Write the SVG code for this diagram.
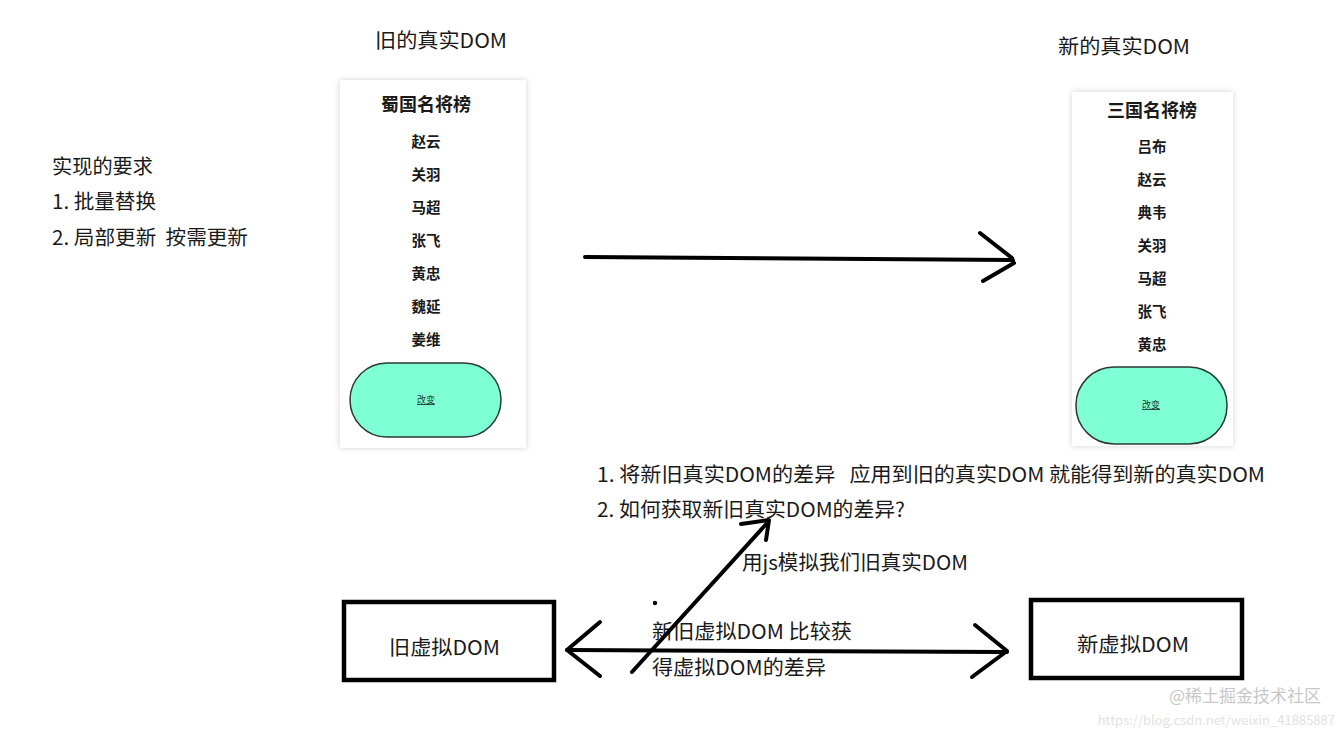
<svg xmlns="http://www.w3.org/2000/svg" width="1342" height="732" viewBox="0 0 1342 732">
<defs>
<filter id="sh" x="-10%" y="-10%" width="120%" height="120%">
<feDropShadow dx="0" dy="0" stdDeviation="3" flood-color="#000" flood-opacity="0.18"/>
</filter>
</defs>
<style>
text{font-family:"Noto Sans CJK SC","Liberation Sans",sans-serif;fill:#1a1a1a;white-space:pre}
.t{font-size:20px}
.h{font-size:18px;font-weight:bold;text-anchor:middle}
.i{font-size:14.5px;font-weight:bold;text-anchor:middle}
.b{font-size:9px;text-anchor:middle;text-decoration:underline;fill:#1d3a30}
.card{fill:#fff;filter:url(#sh)}
.btn{fill:#7fffd4;stroke:#2a3a34;stroke-width:1.5}
.box{fill:#fff;stroke:#000;stroke-width:4.5}
.c{fill:none;stroke:#000;stroke-width:4;stroke-linecap:round;stroke-linejoin:round}
.wm{fill:#c8c8c8}
</style>
<rect width="1342" height="732" fill="#fff"/>

<g id="requirements">
<text class="t" x="52" y="174" textLength="101" lengthAdjust="spacingAndGlyphs">实现的要求</text>
<text class="t" x="52" y="209" textLength="104" lengthAdjust="spacingAndGlyphs">1. 批量替换</text>
<text class="t" x="52" y="245" textLength="196" lengthAdjust="spacingAndGlyphs" xml:space="preserve">2. 局部更新  按需更新</text>
</g>

<g id="old-real-dom">
<text class="t" x="375" y="48" textLength="132" lengthAdjust="spacingAndGlyphs">旧的真实DOM</text>
<rect class="card" x="340" y="80" width="186" height="368"/>
<text class="h" x="426" y="111">蜀国名将榜</text>
<text class="i" x="426" y="147">赵云</text>
<text class="i" x="426" y="180">关羽</text>
<text class="i" x="426" y="213">马超</text>
<text class="i" x="426" y="246">张飞</text>
<text class="i" x="426" y="279">黄忠</text>
<text class="i" x="426" y="312">魏延</text>
<text class="i" x="426" y="345">姜维</text>
<rect class="btn" x="350" y="363" width="151" height="74" rx="37" ry="37"/>
<text class="b" x="426" y="403">改变</text>
</g>

<g id="new-real-dom">
<text class="t" x="1058" y="54" textLength="132" lengthAdjust="spacingAndGlyphs">新的真实DOM</text>
<rect class="card" x="1072" y="92" width="161" height="354"/>
<text class="h" x="1152" y="117">三国名将榜</text>
<text class="i" x="1152" y="152">吕布</text>
<text class="i" x="1152" y="185">赵云</text>
<text class="i" x="1152" y="218">典韦</text>
<text class="i" x="1152" y="251">关羽</text>
<text class="i" x="1152" y="284">马超</text>
<text class="i" x="1152" y="317">张飞</text>
<text class="i" x="1152" y="350">黄忠</text>
<rect class="btn" x="1076" y="367" width="151" height="77" rx="38" ry="38"/>
<text class="b" x="1151" y="408">改变</text>
</g>

<g id="notes">
<text class="t" x="597" y="482" textLength="668" lengthAdjust="spacingAndGlyphs" xml:space="preserve">1. 将新旧真实DOM的差异   应用到旧的真实DOM 就能得到新的真实DOM</text>
<text class="t" x="597" y="517" textLength="308" lengthAdjust="spacingAndGlyphs">2. 如何获取新旧真实DOM的差异?</text>
<text class="t" x="742" y="570" textLength="226" lengthAdjust="spacingAndGlyphs">用js模拟我们旧真实DOM</text>
<text class="t" x="652" y="639" textLength="200" lengthAdjust="spacingAndGlyphs">新旧虚拟DOM 比较获</text>
<text class="t" x="652" y="675" textLength="174" lengthAdjust="spacingAndGlyphs">得虚拟DOM的差异</text>
</g>

<g id="old-vdom">
<rect class="box" x="344" y="602" width="210" height="78"/>
<text class="t" x="389" y="655" textLength="111" lengthAdjust="spacingAndGlyphs">旧虚拟DOM</text>
</g>

<g id="new-vdom">
<rect class="box" x="1031" y="600" width="211" height="78"/>
<text class="t" x="1077" y="652" textLength="112" lengthAdjust="spacingAndGlyphs">新虚拟DOM</text>
</g>

<g id="connectors">
<path class="c" d="M585 257 L1013 260"/>
<path class="c" d="M980 233 L1012 258 M1014 263 L983 281"/>
<path class="c" d="M632 672 L768 522"/>
<path class="c" d="M741 524 L769 520 L766 540"/>
<path class="c" d="M567 650 L1007 652"/>
<path class="c" d="M600 622 L567 650 L600 676"/>
<path class="c" d="M975 625 L1007 651 L972 677"/>
<circle cx="655" cy="603" r="2.2" fill="#000"/>
</g>

<g id="watermark">
<text class="wm" x="1321" y="702" font-size="17" text-anchor="end">@稀土掘金技术社区</text>
<text x="1335" y="725" font-size="13" text-anchor="end" style="fill:#e2e2e2">https://blog.csdn.net/weixin_41885887</text>
</g>
</svg>
